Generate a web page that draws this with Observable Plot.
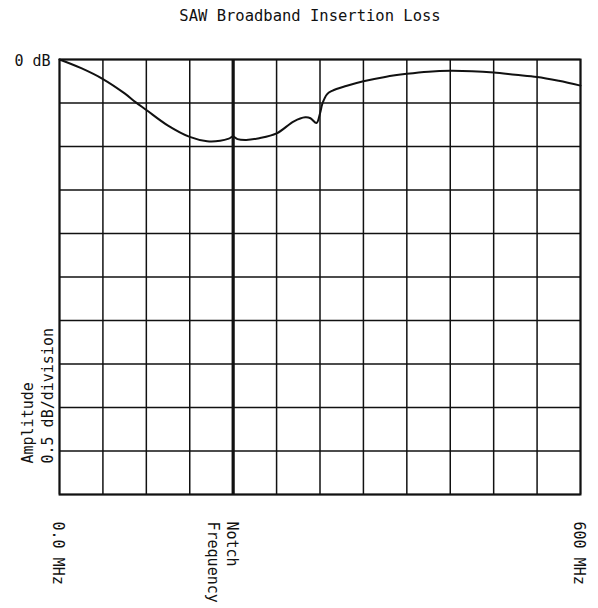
<!DOCTYPE html>
<html>
<head>
<meta charset="utf-8">
<script src="https://cdn.jsdelivr.net/npm/d3@7"></script>
<script src="https://cdn.jsdelivr.net/npm/@observablehq/plot@0.6"></script>
<style>
  html, body { margin: 0; padding: 0; background: #fff; }
  svg { display: block; }
</style>
</head>
<body>
<div id="chart"></div>
<script>
// ---- data ----
const title = "SAW Broadband Insertion Loss";
const freqMHz = [0, 25, 50, 75, 87.5, 100, 125, 150, 170, 185, 195, 200, 205, 215, 230, 250, 270, 283, 289, 296, 300, 303, 308, 314, 330, 350, 375, 400, 425, 450, 475, 500, 525, 550, 575, 600];
const lossDb  = [0, -0.10, -0.225, -0.39, -0.49, -0.58, -0.76, -0.89, -0.94, -0.935, -0.91, -0.885, -0.915, -0.925, -0.905, -0.85, -0.71, -0.665, -0.675, -0.73, -0.62, -0.50, -0.40, -0.36, -0.305, -0.25, -0.20, -0.165, -0.14, -0.13, -0.135, -0.15, -0.175, -0.20, -0.245, -0.30];
const xGrid = [0, 50, 100, 150, 200, 250, 300, 350, 400, 450, 500, 550, 600];
const yGrid = [0, -0.5, -1, -1.5, -2, -2.5, -3, -3.5, -4, -4.5, -5];
const notchFreq = [200];
const xLabelPos = [0, 200, 600];
const xLabelText = ["0.0 MHz", "Notch\nFrequency", "600 MHz"];
const yTopLabel = ["0 dB"];
const yAxisLabel = ["Amplitude\n0.5 dB/division"];

const curve = freqMHz.map((f, i) => ({f, db: lossDb[i]}));
const xLabels = xLabelPos.map((p, i) => ({p, t: xLabelText[i]}));

const font = "'DejaVu Sans Mono', 'Liberation Mono', monospace";
const ink = "#111";

const chart = Plot.plot({
  width: 598,
  height: 608,
  marginTop: 59,
  marginBottom: 114,
  marginLeft: 59,
  marginRight: 18,
  style: {fontFamily: font, fontSize: "15px", color: ink, background: "#fff"},
  x: {domain: [0, 600], axis: null},
  y: {domain: [-5, 0], axis: null},
  marks: [
    Plot.ruleX(xGrid, {x: d => d, stroke: ink, strokeWidth: 1.5}),
    Plot.ruleY(yGrid, {y: d => d, stroke: ink, strokeWidth: 1.5}),
    Plot.ruleX(notchFreq, {x: d => d, stroke: ink, strokeWidth: 3.2}),
    Plot.frame({stroke: ink, strokeWidth: 2}),
    Plot.line(curve, {x: "f", y: "db", stroke: ink, strokeWidth: 2, curve: "catmull-rom"}),
    Plot.text([title], {frameAnchor: "top", text: d => d, dx: -10, dy: -43, lineAnchor: "middle", fontSize: 15.5, fill: ink}),
    Plot.text(yTopLabel, {x: 600 * 0, y: 0, text: d => d, textAnchor: "end", dx: -9, dy: 2, fill: ink}),
    Plot.text(xLabels, {x: "p", text: "t", frameAnchor: "bottom", rotate: 90, textAnchor: "start", lineAnchor: "top", lineHeight: 1.27, dx: 7, dy: 27, fill: ink}),
    Plot.text(yAxisLabel, {frameAnchor: "bottom-left", text: d => d, rotate: -90, textAnchor: "start", lineAnchor: "top", lineHeight: 1.33, dx: -41, dy: -31, fill: ink})
  ]
});
document.getElementById("chart").append(chart);
</script>
</body>
</html>
